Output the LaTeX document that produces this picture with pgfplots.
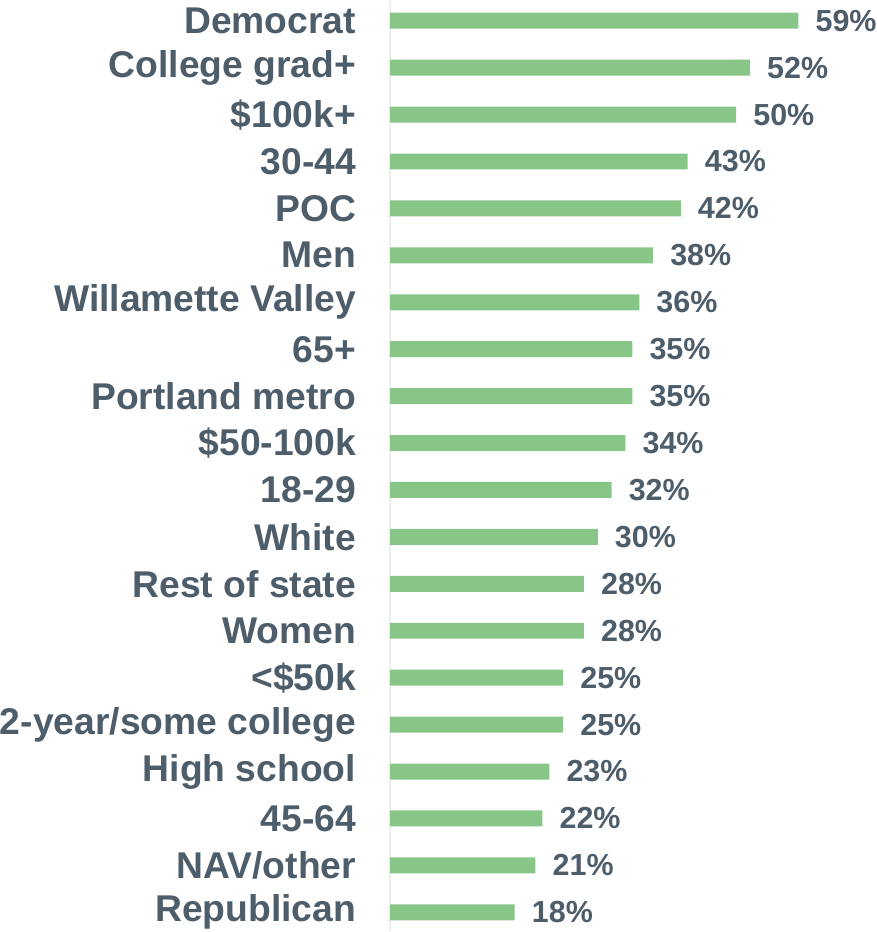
\documentclass[border=0pt]{standalone}
\usepackage{fontspec}
\setmainfont{Liberation Sans}
\usepackage{pgfplots}
\pgfplotsset{compat=1.18}
\definecolor{barGreen}{RGB}{136,198,136}
\definecolor{labelGray}{RGB}{78,93,106}
\definecolor{axisGray}{RGB}{238,238,238}
\begin{document}
\begin{tikzpicture}
\begin{axis}[
    scale only axis,
    width=490pt,
    height=932pt,
    xbar,
    bar width=16pt,
    bar shift=0pt,
    xmin=0, xmax=70.7,
    ymin=-0.4255, ymax=19.404,
    y dir=reverse,
    enlargelimits=false,
    axis x line=none,
    axis y line*=left,
    y axis line style={draw=axisGray, line width=1.5pt, -},
    xtick=\empty,
    ytick={0,...,19},
    major tick length=0pt,
    yticklabels={Democrat, College grad+, \$100k+, 30-44, POC, Men, Willamette Valley, 65+, Portland metro, \$50-100k, 18-29, White, Rest of state, Women, <\$50k, 2-year/some college, High school, 45-64, NAV/other, Republican},
    yticklabel style={anchor=east, inner sep=0pt, xshift=-34pt, text=labelGray, font=\bfseries\fontsize{37.3}{40}\selectfont},
    nodes near coords={\pgfmathprintnumber{\pgfplotspointmeta}\%},
    nodes near coords style={anchor=west, inner sep=0pt, xshift=17pt, text=labelGray, font=\bfseries\fontsize{30.5}{34}\selectfont, /pgf/number format/assume math mode=true},
]
\addplot[fill=barGreen, draw=none] coordinates {
    (59,0) (52,1) (50,2) (43,3) (42,4) (38,5) (36,6) (35,7) (35,8) (34,9)
    (32,10) (30,11) (28,12) (28,13) (25,14) (25,15) (23,16) (22,17) (21,18) (18,19)
};
\end{axis}
\end{tikzpicture}
\end{document}
